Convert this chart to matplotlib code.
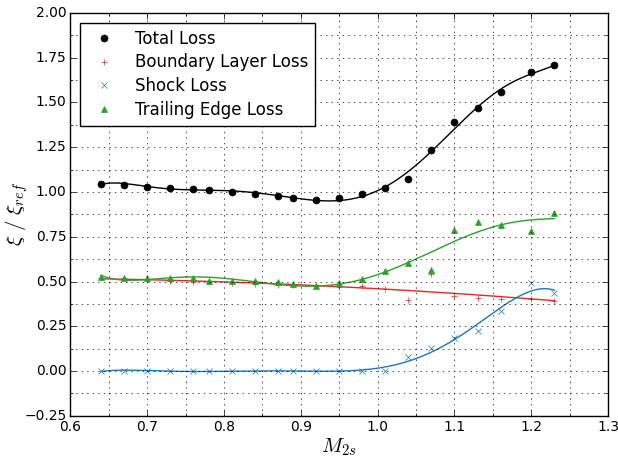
import numpy as np
import matplotlib
matplotlib.use('Agg')
import matplotlib.pyplot as plt
from matplotlib.ticker import AutoMinorLocator, MultipleLocator

plt.style.use('classic')

mach = [0.64, 0.67, 0.70, 0.73, 0.76, 0.78, 0.81, 0.84, 0.87, 0.89, 0.92,
        0.95, 0.98, 1.01, 1.04, 1.07, 1.10, 1.13, 1.16, 1.20, 1.23]

total_loss = [1.045, 1.04, 1.03, 1.025, 1.015, 1.01, 1.0, 0.99, 0.98, 0.965, 0.955,
              0.965, 0.99, 1.02, 1.075, 1.235, 1.39, 1.467, 1.556, 1.668, 1.707]
bl_loss = [0.52, 0.517, 0.512, 0.505, 0.497, 0.50, 0.494, 0.487, 0.482, 0.479, 0.475,
           0.471, 0.474, 0.459, 0.395, 0.543, 0.42, 0.41, 0.405, 0.403, 0.39]
shock_loss = [0.0, 0.002, 0.0, 0.0, 0.0, 0.0, 0.0, 0.0, 0.0, 0.0, 0.0,
              0.0, 0.0, 0.0, 0.079, 0.131, 0.184, 0.225, 0.335, 0.49, 0.435]
te_loss = [0.525, 0.52, 0.52, 0.52, 0.52, 0.505, 0.505, 0.505, 0.50, 0.485, 0.475,
           0.49, 0.513, 0.557, 0.603, 0.566, 0.79, 0.83, 0.818, 0.78, 0.88]

# label, data, colour, marker, marker size, polyfit degree
series = [
    ('Total Loss', total_loss, 'k', 'o', 5, 7),
    ('Boundary Layer Loss', bl_loss, '#e8262a', '+', 5, 2),
    ('Shock Loss', shock_loss, '#1f77b4', 'x', 4, 6),
    ('Trailing Edge Loss', te_loss, '#2ca02c', '^', 5, 6),
]

fig = plt.figure(figsize=(6.18, 4.62), dpi=100, facecolor='white')
ax = fig.add_axes([0.114, 0.100, 0.870, 0.872])

x_fit = np.linspace(min(mach), max(mach), 300)
for label, vals, col, mk, ms, deg in series:
    ax.plot(mach, vals, linestyle='none', marker=mk, color=col, markeredgecolor=col,
            markersize=ms, label=label)
    coef = np.polyfit(mach, vals, deg)
    ax.plot(x_fit, np.polyval(coef, x_fit), color=col, linewidth=1)

ax.set_xlim(0.6, 1.3)
ax.set_ylim(-0.25, 2.0)
ax.xaxis.set_major_locator(MultipleLocator(0.1))
ax.yaxis.set_major_locator(MultipleLocator(0.25))
ax.xaxis.set_minor_locator(AutoMinorLocator(2))
ax.yaxis.set_minor_locator(AutoMinorLocator(2))
ax.tick_params(labelsize=10, pad=3)
ax.grid(True, which='both')
ax.set_xlabel(r'$M_{2s}$', fontsize=15, labelpad=2)
ax.set_ylabel(r'$\xi\ /\ \xi_{ref}$', fontsize=15)
ax.yaxis.set_label_coords(-0.075, 0.5)
ax.legend(loc='upper left', numpoints=1, fontsize=12, fancybox=False,
          borderaxespad=0.6, handletextpad=0.9, labelspacing=0.35, borderpad=0.4)

fig.savefig('out.png', dpi=100, facecolor='white')
